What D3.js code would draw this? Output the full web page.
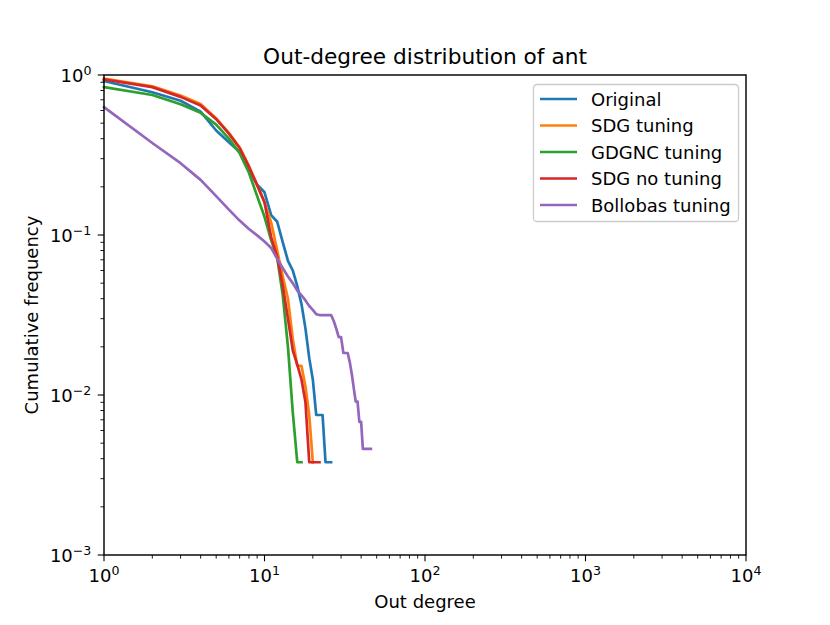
<!DOCTYPE html>
<html>
<head>
<meta charset="utf-8">
<script src="https://cdn.jsdelivr.net/npm/d3@7"></script>
<style>
  body { margin: 0; background: #fff; }
  svg text { font-family: "DejaVu Sans", sans-serif; fill: #000; }
</style>
</head>
<body>
<div id="chart"></div>
<script>
// Cumulative out-degree frequency, [degree, frequency] pairs.
const original = [[1,0.917],[2,0.78],[3,0.69],[4,0.59],[5,0.45],[6,0.38],[7,0.33],[8,0.255],[9,0.206],[10,0.185],
    [11,0.133],[12,0.121],[13,0.09],[14,0.069],[15,0.06],[16,0.048],[17,0.037],[18,0.026],[19,0.017],[20,0.0125],
    [21,0.0075],[22,0.0075],[23,0.0075],[24,0.0038],[25,0.0038],[26,0.0038]];
const sdgTuning = [[1,0.95],[2,0.85],[3,0.745],[4,0.66],[5,0.535],[6,0.435],[7,0.352],[8,0.27],[9,0.205],[10,0.16],
    [11,0.12],[12,0.08],[13,0.055],[14,0.04],[15,0.0225],[16,0.0152],[17,0.0152],[18,0.0113],[19,0.0075],[20,0.0038]];
const gdgncTuning = [[1,0.84],[2,0.75],[3,0.656],[4,0.58],[5,0.49],[6,0.40],[7,0.325],[8,0.245],[9,0.175],[10,0.13],
    [11,0.093],[12,0.072],[13,0.042],[14,0.02],[15,0.0078],[16,0.0038],[17,0.0038]];
const sdgNoTuning = [[1,0.94],[2,0.84],[3,0.73],[4,0.645],[5,0.53],[6,0.43],[7,0.35],[8,0.267],[9,0.205],[10,0.16],
    [11,0.097],[12,0.073],[13,0.048],[14,0.03],[15,0.019],[16,0.0155],[17,0.0125],[18,0.009],[19,0.0038],[20,0.0038],
    [21,0.0038],[22,0.0038]];
const bollobasTuning = [[1,0.63],[2,0.376],[3,0.281],[4,0.221],[5,0.175],[6,0.144],[7,0.123],[8,0.109],[9,0.0995],[10,0.091],
    [11,0.083],[12,0.071],[13,0.062],[14,0.055],[15,0.05],[16,0.045],[17,0.042],[18,0.039],[19,0.036],[20,0.034],
    [21,0.032],[22,0.0316],[23,0.0316],[24,0.0316],[25,0.0316],[26,0.0316],[27,0.029],[28,0.026],[29,0.023],[30,0.023],
    [31,0.0183],[32,0.0183],[33,0.0183],[34,0.016],[35,0.0135],[36,0.011],[37,0.0091],[38,0.0091],[39,0.0068],[40,0.0068],
    [41,0.0046],[42,0.0046],[43,0.0046],[44,0.0046],[45,0.0046],[46,0.0046]];

const seriesNames = ["Original", "SDG tuning", "GDGNC tuning", "SDG no tuning", "Bollobas tuning"];
const seriesData = [original, sdgTuning, gdgncTuning, sdgNoTuning, bollobasTuning];
const seriesColors = ["#1f77b4", "#ff7f0e", "#2ca02c", "#d62728", "#9467bd"];

const xExponents = [0, 1, 2, 3, 4];
const yExponents = [-3, -2, -1, 0];

// Chart dimensions (matplotlib default layout at this size).
const width = 830;
const height = 625;
const marginLeft = 104;
const marginRight = 84;
const marginTop = 75;
const marginBottom = 70;
const tickFont = 18;

const x = d3.scaleLog([1, 1e4], [marginLeft, width - marginRight]);
const y = d3.scaleLog([1e-3, 1], [height - marginBottom, marginTop]);

const svg = d3.select("#chart")
    .append("svg")
    .attr("width", width)
    .attr("height", height)
    .attr("viewBox", [0, 0, width, height]);

// Minor tick positions: 2..9 in each decade.
function minorTicks(exps) {
    const out = [];
    for (let i = 0; i < exps.length - 1; i++) {
        for (let k = 2; k <= 9; k++) out.push(k * Math.pow(10, exps[i]));
    }
    return out;
}

// Lines.
const line = d3.line()
    .x(d => x(d[0]))
    .y(d => y(d[1]));

svg.append("g")
    .attr("fill", "none")
    .attr("stroke-width", 2.7)
    .attr("stroke-linejoin", "round")
    .attr("stroke-linecap", "square")
    .selectAll("path")
    .data(seriesData)
    .join("path")
        .attr("stroke", (d, i) => seriesColors[i])
        .attr("d", line);

// Axes frame.
svg.append("rect")
    .attr("x", marginLeft)
    .attr("y", marginTop)
    .attr("width", width - marginRight - marginLeft)
    .attr("height", height - marginBottom - marginTop)
    .attr("fill", "none")
    .attr("stroke", "#000")
    .attr("stroke-width", 1.44);

// X ticks.
const xAxis = svg.append("g").attr("stroke", "#000");
xAxis.selectAll("line.major")
    .data(xExponents)
    .join("line")
        .attr("x1", d => x(Math.pow(10, d)))
        .attr("x2", d => x(Math.pow(10, d)))
        .attr("y1", height - marginBottom)
        .attr("y2", height - marginBottom + 6.3)
        .attr("stroke-width", 1.1);
xAxis.selectAll("line.minor")
    .data(minorTicks(xExponents))
    .join("line")
        .attr("x1", d => x(d))
        .attr("x2", d => x(d))
        .attr("y1", height - marginBottom)
        .attr("y2", height - marginBottom + 3.6)
        .attr("stroke-width", 0.9);

const xLabels = svg.append("g")
    .attr("font-size", tickFont)
    .attr("text-anchor", "middle")
    .selectAll("text")
    .data(xExponents)
    .join("text")
        .attr("x", d => x(Math.pow(10, d)))
        .attr("y", height - marginBottom + 27);
xLabels.append("tspan").text("10");
xLabels.append("tspan")
    .attr("font-size", 12.6)
    .attr("dy", -7.5)
    .text(d => String(d).replace("-", "\u2212"));

// Y ticks.
const yAxis = svg.append("g").attr("stroke", "#000");
yAxis.selectAll("line")
    .data(yExponents)
    .join("line")
        .attr("x1", marginLeft - 6.3)
        .attr("x2", marginLeft)
        .attr("y1", d => y(Math.pow(10, d)))
        .attr("y2", d => y(Math.pow(10, d)))
        .attr("stroke-width", 1.1);
yAxis.selectAll("line.minor")
    .data(minorTicks(yExponents))
    .join("line")
        .attr("x1", marginLeft - 3.6)
        .attr("x2", marginLeft)
        .attr("y1", d => y(d))
        .attr("y2", d => y(d))
        .attr("stroke-width", 0.9);

const yLabels = svg.append("g")
    .attr("font-size", tickFont)
    .attr("text-anchor", "end")
    .selectAll("text")
    .data(yExponents)
    .join("text")
        .attr("x", marginLeft - 12.6)
        .attr("y", d => y(Math.pow(10, d)) + 7);
yLabels.append("tspan").text("10");
yLabels.append("tspan")
    .attr("font-size", 12.6)
    .attr("dy", -7.5)
    .text(d => String(d).replace("-", "\u2212"));

// Title and axis labels.
svg.append("text")
    .attr("x", (marginLeft + width - marginRight) / 2)
    .attr("y", marginTop - 11)
    .attr("text-anchor", "middle")
    .attr("font-size", 21.7)
    .text("Out-degree distribution of ant");

svg.append("text")
    .attr("x", (marginLeft + width - marginRight) / 2)
    .attr("y", height - 17)
    .attr("text-anchor", "middle")
    .attr("font-size", tickFont)
    .text("Out degree");

svg.append("text")
    .attr("transform", `translate(38,${(marginTop + height - marginBottom) / 2}) rotate(-90)`)
    .attr("text-anchor", "middle")
    .attr("font-size", tickFont)
    .text("Cumulative frequency");

// Legend.
const legend = svg.append("g");
legend.append("rect")
    .attr("x", 533.5)
    .attr("y", 84.5)
    .attr("width", 205)
    .attr("height", 137)
    .attr("rx", 3.6)
    .attr("fill", "#fff")
    .attr("fill-opacity", 0.8)
    .attr("stroke", "#cccccc")
    .attr("stroke-width", 1.3);

const legendRows = legend.selectAll("g.row")
    .data(seriesNames)
    .join("g")
        .attr("transform", (d, i) => `translate(540,${99 + i * 26.5})`);
legendRows.append("line")
    .attr("x1", 0)
    .attr("x2", 37)
    .attr("stroke", (d, i) => seriesColors[i])
    .attr("stroke-width", 2.7);
legendRows.append("text")
    .attr("x", 51)
    .attr("y", 6.5)
    .attr("font-size", tickFont)
    .text(d => d);
</script>
</body>
</html>
